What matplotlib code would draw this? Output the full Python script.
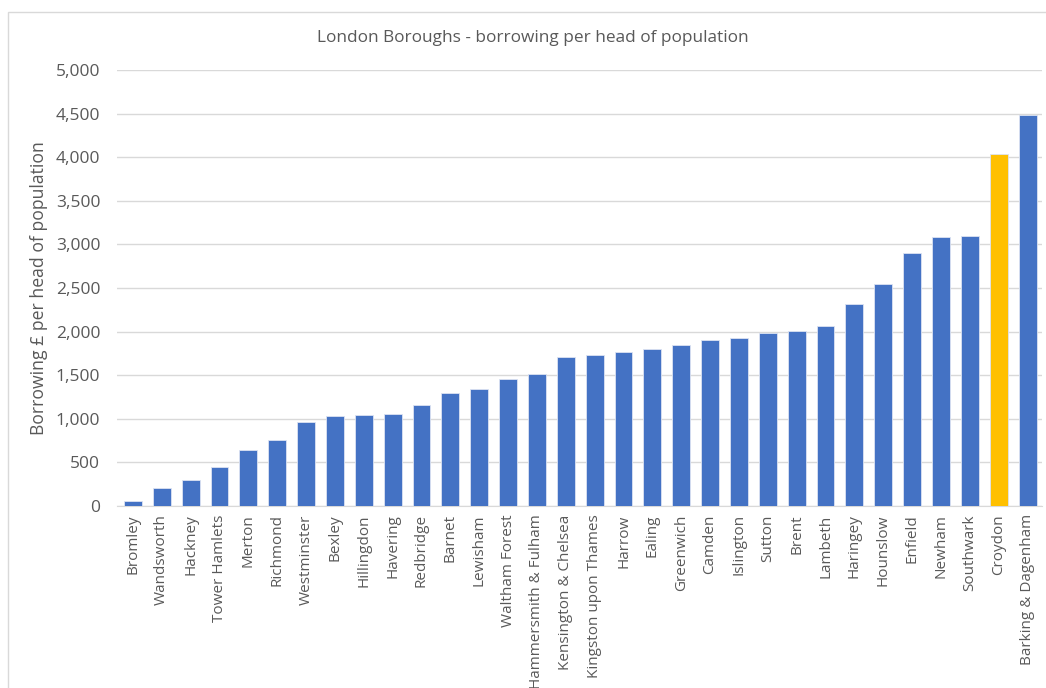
import matplotlib.pyplot as plt
from matplotlib.patches import Rectangle

plt.rcParams['font.family'] = ['Open Sans', 'DejaVu Sans']

boroughs = ['Bromley', 'Wandsworth', 'Hackney', 'Tower Hamlets', 'Merton', 'Richmond',
            'Westminster', 'Bexley', 'Hillingdon', 'Havering', 'Redbridge', 'Barnet',
            'Lewisham', 'Waltham Forest', 'Hammersmith & Fulham', 'Kensington & Chelsea',
            'Kingston upon Thames', 'Harrow', 'Ealing', 'Greenwich', 'Camden', 'Islington',
            'Sutton', 'Brent', 'Lambeth', 'Haringey', 'Hounslow', 'Enfield', 'Newham',
            'Southwark', 'Croydon', 'Barking & Dagenham']
borrowing = [55, 210, 300, 450, 640, 760, 965, 1035, 1045, 1060, 1160, 1300,
             1340, 1455, 1515, 1710, 1730, 1765, 1800, 1845, 1905, 1925,
             1980, 2005, 2065, 2315, 2545, 2900, 3085, 3095, 4035, 4485]
highlight = 'Croydon'

blue = '#4472C4'
gold = '#FFC000'
grey = '#595959'

fig = plt.figure(figsize=(10.46, 6.88), dpi=100)
# chart frame
fig.patches.append(Rectangle((8 / 1046, -0.1), 1.2, (688 - 12) / 688 + 0.1,
                             transform=fig.transFigure, fill=False,
                             edgecolor='#D9D9D9', linewidth=1))
ax = fig.add_axes([117 / 1046, 1 - 506 / 688, (1042 - 117) / 1046, (506 - 70) / 688])

colors = [gold if b == highlight else blue for b in boroughs]
ax.bar(range(len(boroughs)), borrowing, width=0.62, color=colors,
       edgecolor='#DCE3F2', linewidth=0.6, zorder=3)

ax.set_xlim(-0.55, len(boroughs) - 0.5)
ax.set_ylim(0, 5000)
ax.set_yticks(range(0, 5001, 500))
ax.set_yticklabels([f'{v:,}' for v in range(0, 5001, 500)], fontsize=12.5, color=grey)
ax.set_xticks(range(len(boroughs)))
ax.set_xticklabels(boroughs, rotation=90, fontsize=11, color=grey)
ax.tick_params(axis='both', length=0)
ax.tick_params(axis='y', pad=12)
ax.tick_params(axis='x', pad=6)
ax.grid(axis='y', color='#D9D9D9', linewidth=1, zorder=0)
for s in ['top', 'right', 'left']:
    ax.spines[s].set_visible(False)
ax.spines['bottom'].set_color('#D9D9D9')

ax.set_ylabel('Borrowing £ per head of population', fontsize=12.7, color=grey, labelpad=6)
fig.text(533 / 1046, 1 - 38 / 688, 'London Boroughs - borrowing per head of population',
         ha='center', va='center', fontsize=12.4, color=grey)

fig.savefig('out.png', dpi=100)
